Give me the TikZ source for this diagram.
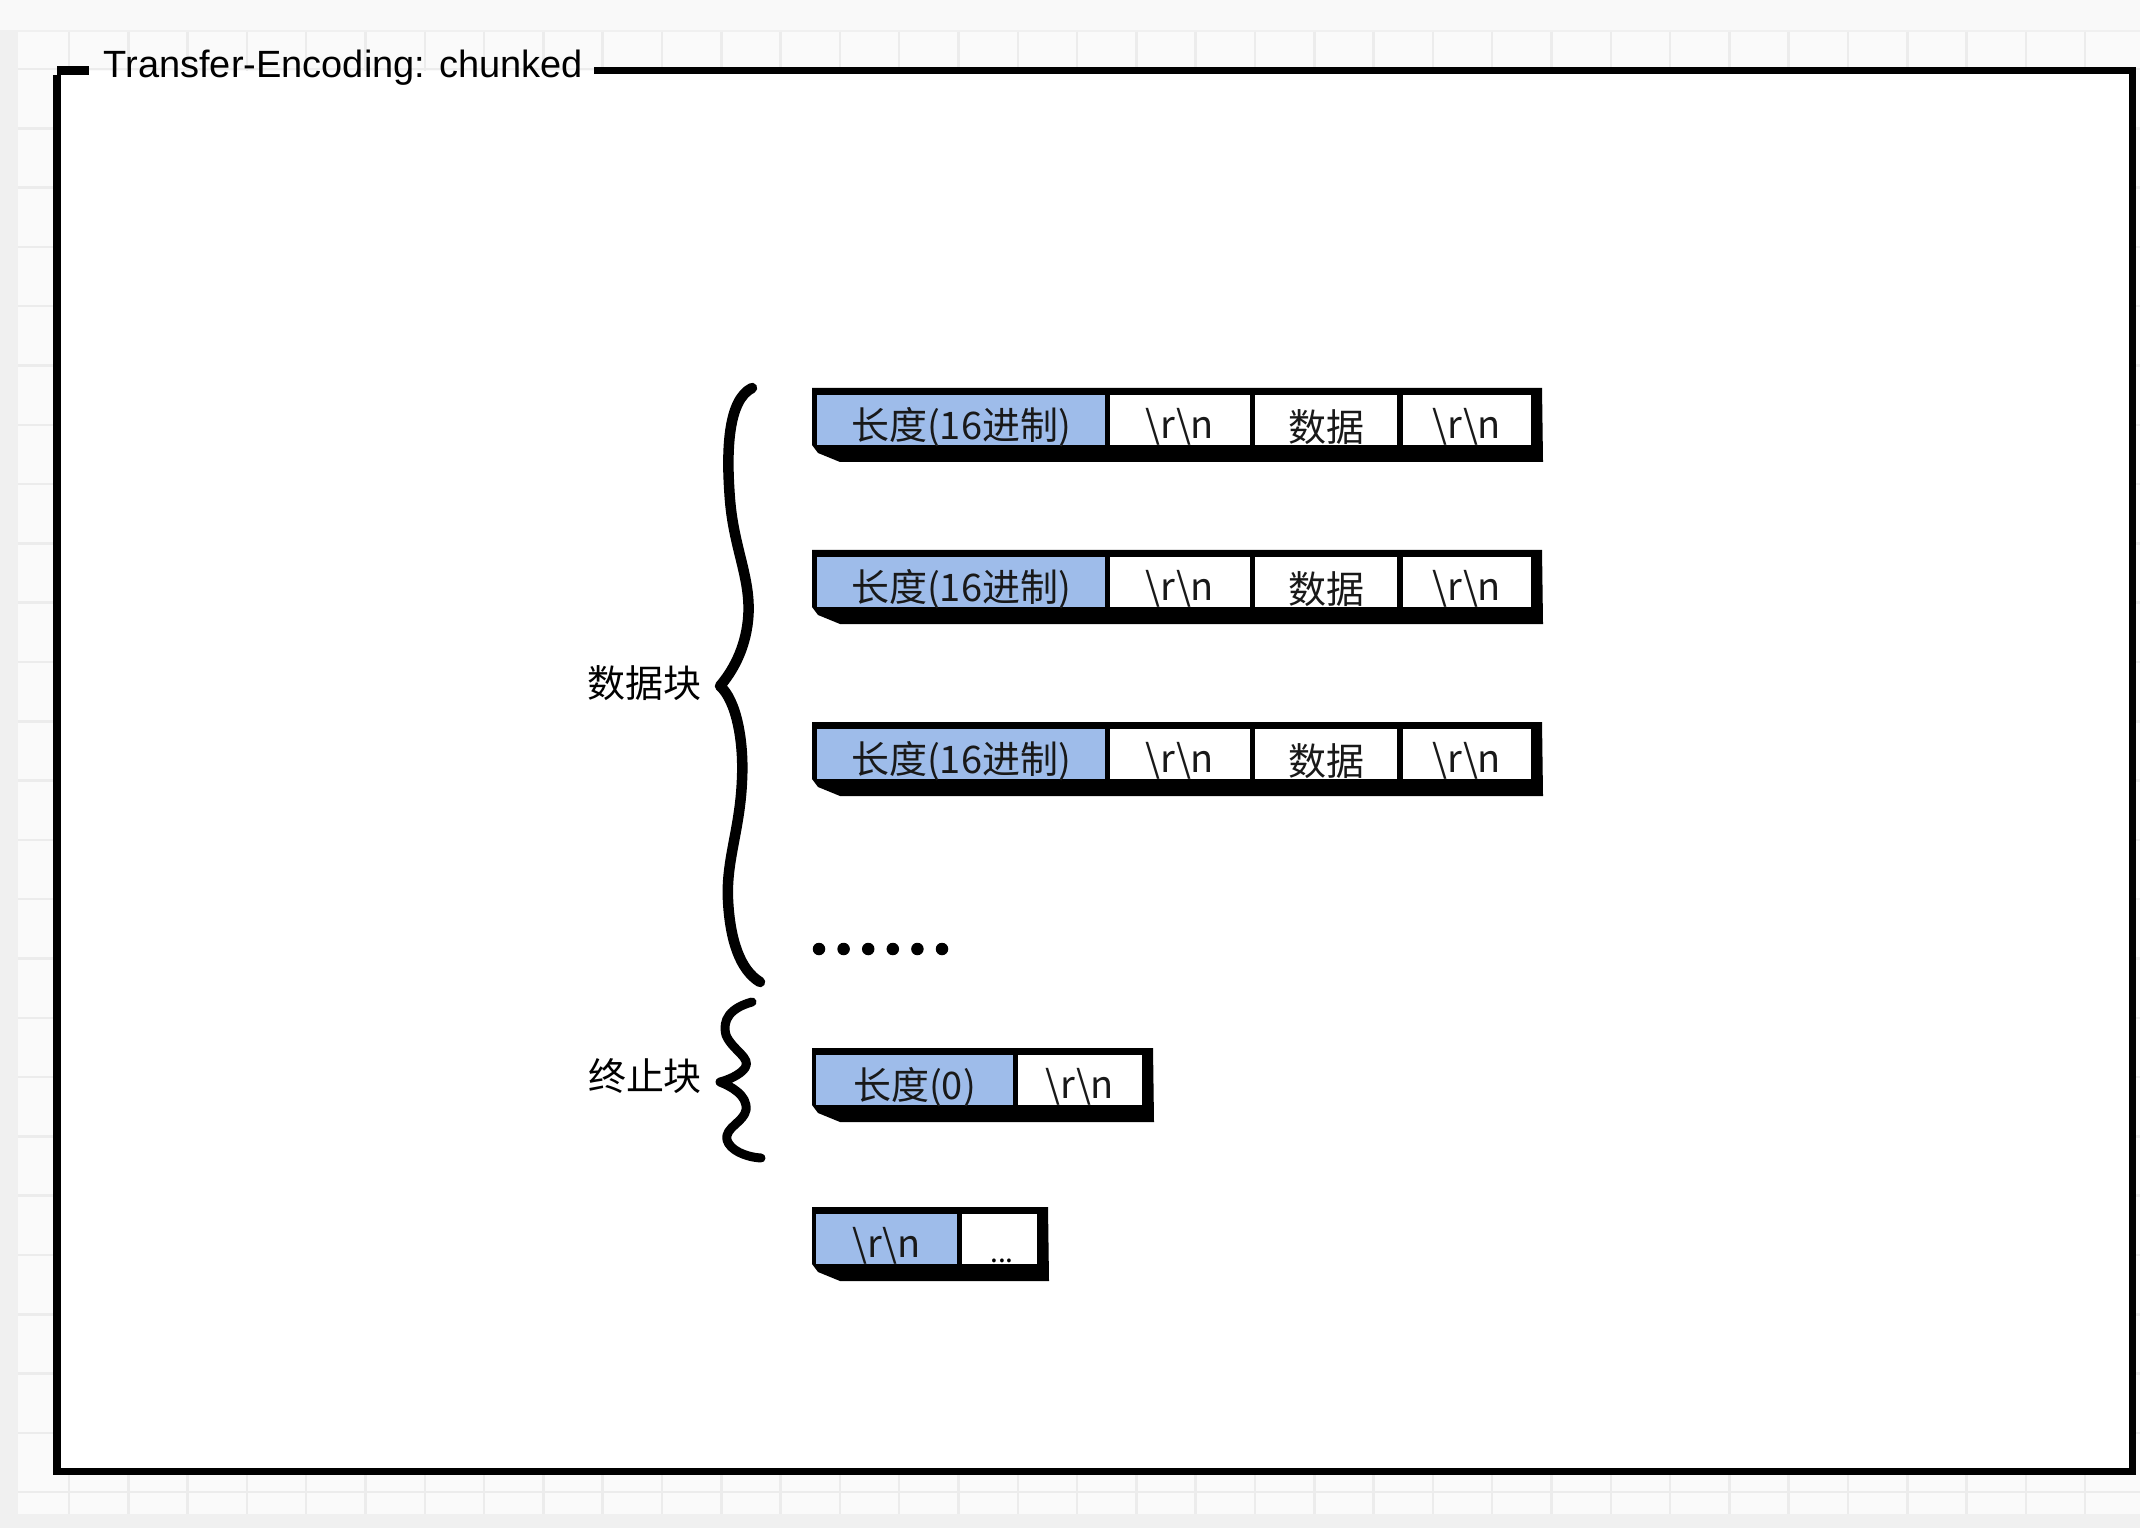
\documentclass[tikz,border=0pt]{standalone}
\usepackage{fontspec}
\setmainfont{Liberation Sans}
\newfontfamily\cjk{Noto Sans CJK SC}
\definecolor{cellblue}{RGB}{158,188,234}
\definecolor{gridc}{RGB}{236,236,236}
\definecolor{canvasc}{RGB}{250,250,250}
\definecolor{outerc}{RGB}{240,240,240}
\begin{document}
\begin{tikzpicture}[x=0.01cm,y=-0.01cm,
  framestyle/.style={line width=0.07cm,line join=miter},
  rowbg/.style={fill=black,draw=none},
  cellb/.style={fill=cellblue,draw=none,inner sep=0pt,minimum height=0.5cm},
  cellw/.style={fill=white,draw=none,inner sep=0pt,minimum height=0.5cm},
  txt/.style={inner sep=0pt,font=\cjk\fontsize{10.8}{13}\selectfont,text=black!90},
  bracestyle/.style={line width=0.105cm,line cap=round,line join=round},
  lbl/.style={font=\cjk\fontsize{10.8}{13}\selectfont,inner sep=0pt},
  dotc/.style={circle,fill=black,inner sep=0pt,minimum size=0.125cm}
]
\useasboundingbox (0,0) rectangle (2140,1528);
% background and canvas grid
\fill[outerc] (0,0) rectangle (2140,1528);
\fill[white!60!outerc] (0,0) rectangle (2140,30);
\fill[canvasc] (18,32) rectangle (2140,1514);
\begin{scope}
\clip (18,32) rectangle (2140,1514);
\foreach \i in {0,...,35} \draw[gridc,line width=0.025cm] ({69+59.3*\i},32) -- ({69+59.3*\i},1514);
\foreach \j in {0,...,24} \draw[gridc,line width=0.025cm] (18,{69+59.3*\j}) -- (2140,{69+59.3*\j});
\end{scope}
% frame
\fill[white] (57,71) rectangle (2132,1471);
\coordinate (fa) at (57,71);
\coordinate (fb) at (89,71);
\coordinate (fc) at (594,71);
\coordinate (fd) at (2132,71);
\coordinate (fe) at (2132,1471);
\coordinate (ff) at (57,1471);
\draw[framestyle,line width=0.09cm] (fa) -- (fb);
\draw[framestyle] (fc) -- (fd) -- (fe) -- (ff) -- ([yshift=-0.045cm]fa);
\node[anchor=base west,inner sep=0pt,font=\fontsize{10.8}{13}\selectfont] (title) at (103,78) {Transfer-Encoding: chunked};

% rows of chunks
\foreach \T/\n in {388/1,550/2,722/3}{
  \fill[rowbg] (812,\T) -- (1542,\T) -- (1543,\T+74) -- (840,\T+74) -- (818,\T+65) -- (812,\T+57) -- cycle;
  \node[cellb,minimum width=2.88cm] (len\n) at (961,\T+32) {};
  \node[cellw,minimum width=1.40cm] (cra\n) at (1180,\T+32) {};
  \node[cellw,minimum width=1.42cm] (dat\n) at (1326,\T+32) {};
  \node[cellw,minimum width=1.28cm] (crb\n) at (1467,\T+32) {};
  \node[txt] (lent\n) at ([yshift=-0.07cm]len\n.center) {长度(16进制)};
  \node[txt] (crat\n) at ([yshift=-0.07cm]cra\n.center) {\textbackslash r\textbackslash n};
  \node[txt] (datt\n) at ([yshift=-0.07cm]dat\n.center) {数据};
  \node[txt] (crbt\n) at ([yshift=-0.07cm]crb\n.center) {\textbackslash r\textbackslash n};
}
% terminating chunk
\fill[rowbg] (812,1048) -- (1153,1048) -- (1154,1122) -- (840,1122) -- (818,1113) -- (812,1105) -- cycle;
\node[cellb,minimum width=1.97cm] (len0) at (914.5,1080) {};
\node[cellw,minimum width=1.24cm] (cr0) at (1080,1080) {};
\node[txt] (len0t) at ([yshift=-0.07cm]len0.center) {长度(0)};
\node[txt] (cr0t) at ([yshift=-0.07cm]cr0.center) {\textbackslash r\textbackslash n};
% final CRLF
\fill[rowbg] (812,1207) -- (1048,1207) -- (1049,1281) -- (840,1281) -- (818,1272) -- (812,1264) -- cycle;
\node[cellb,minimum width=1.41cm] (crf) at (886.5,1239) {};
\node[cellw,minimum width=0.75cm] (more) at (999.5,1239) {};
\node[txt] (crft) at ([yshift=-0.07cm]crf.center) {\textbackslash r\textbackslash n};
\node[anchor=base,inner sep=0pt,font=\cjk\fontsize{8}{9}\selectfont] (moredots) at (1002,1262) {...};

% ellipsis dots
\foreach \k in {0,...,5} \node[dotc] (dot\k) at ({819+24.6*\k},949) {};

% braces
\draw[bracestyle] (752,388) .. controls (728,400) and (726,450) .. (730,500)
  .. controls (734,550) and (752,580) .. (748,620)
  .. controls (745,650) and (732,672) .. (720,686)
  .. controls (736,700) and (744,740) .. (742,780)
  .. controls (740,830) and (726,860) .. (728,900)
  .. controls (730,940) and (740,970) .. (760,982);
\draw[bracestyle,line width=0.09cm] (752,1002) .. controls (730,1008) and (722,1020) .. (726,1035)
  .. controls (732,1050) and (752,1058) .. (745,1068)
  .. controls (740,1075) and (728,1080) .. (720,1082)
  .. controls (730,1086) and (748,1095) .. (746,1110)
  .. controls (744,1122) and (724,1128) .. (727,1140)
  .. controls (730,1150) and (745,1157) .. (761,1158);
\node[lbl] (datalbl) at (644,683) {数据块};
\node[lbl] (endlbl) at (645,1076) {终止块};
\end{tikzpicture}
\end{document}
